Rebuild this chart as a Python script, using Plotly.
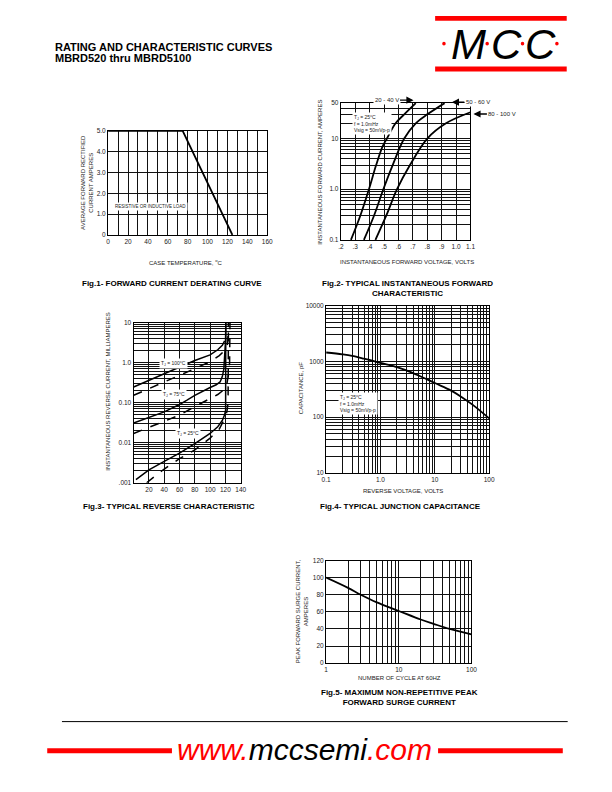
import plotly.graph_objects as go

W, H = 612, 792
def PX(x): return x / W
def PY(y): return 1 - y / H

# ---------------- data ----------------
# Fig.1 derating
fig1_temp = [0, 75, 125]
fig1_amps = [5.0, 5.0, 0.0]

# Fig.2 forward characteristic
fig2_v_20_40 = [0.27, 0.335, 0.395, 0.445, 0.49, 0.52, 0.58, 0.64, 0.72]
fig2_i_20_40 = [0.1, 0.3, 1, 3, 7, 10, 20, 30, 50]
fig2_v_50_60 = [0.36, 0.43, 0.495, 0.56, 0.64, 0.72, 0.80, 0.92]
fig2_i_50_60 = [0.1, 0.3, 1, 3, 10, 20, 30, 50]
fig2_v_80_100 = [0.44, 0.515, 0.59, 0.68, 0.80, 0.93, 1.1]
fig2_i_80_100 = [0.1, 0.3, 1, 3, 10, 20, 33]

# Fig.3 reverse characteristic (mA)
fig3_x_100s = [0, 20, 40, 60, 80, 100, 110, 116, 119]
fig3_y_100s = [0.246, 0.36, 0.53, 0.78, 1.13, 1.56, 2.1, 2.7, 3.5]
fig3_x_100d = [0, 20, 40, 60, 80, 100, 112, 119, 123, 124]
fig3_y_100d = [0.153, 0.22, 0.33, 0.48, 0.72, 1.06, 1.5, 2.0, 3.0, 10]
fig3_x_75s = [0, 20, 40, 60, 80, 100, 108, 113, 116, 118, 119.5, 120.2, 120.5]
fig3_y_75s = [0.031, 0.043, 0.059, 0.09, 0.153, 0.24, 0.28, 0.33, 0.45, 0.7, 1.5, 3.5, 10]
fig3_x_75d = [0, 20, 40, 60, 80, 100, 110, 118, 122, 124, 125.5, 126]
fig3_y_75d = [0.017, 0.024, 0.034, 0.049, 0.08, 0.127, 0.16, 0.21, 0.3, 0.5, 1.0, 10]
fig3_x_25s = [3, 20, 40, 60, 80, 100, 110, 116, 119, 120.3, 120.5]
fig3_y_25s = [0.0012, 0.0021, 0.0034, 0.0055, 0.0095, 0.017, 0.025, 0.036, 0.05, 0.065, 10]
fig3_x_25d = [17, 40, 60, 80, 100, 112, 119, 122, 123.5, 124]
fig3_y_25d = [0.001, 0.0022, 0.004, 0.0066, 0.013, 0.022, 0.04, 0.06, 0.1, 10]

# Fig.4 junction capacitance
fig4_v = [0.1, 0.2, 0.3, 0.5, 1, 2, 3, 5, 10, 20, 30, 50, 100]
fig4_c = [1450, 1340, 1260, 1120, 940, 790, 690, 560, 410, 300, 236, 166, 95]

# Fig.5 surge current
fig5_n = [1, 2, 3, 5, 10, 20, 30, 50, 100]
fig5_i = [100, 88, 80, 71, 61, 51, 46, 40, 33.5]

# tick labels
fig1_xticks = [0, 20, 40, 60, 80, 100, 120, 140, 160]
fig1_xlabels = ["0", "20", "40", "60", "80", "100", "120", "140", "160"]
fig1_yticks = [0, 1, 2, 3, 4, 5]
fig1_ylabels = ["0", "1.0", "2.0", "3.0", "4.0", "5.0"]
fig2_xticks = [0.2, 0.3, 0.4, 0.5, 0.6, 0.7, 0.8, 0.9, 1.0, 1.1]
fig2_xlabels = [".2", ".3", ".4", ".5", ".6", ".7", ".8", ".9", "1.0", "1.1"]
fig2_yticks = [0.1, 1, 10, 50]
fig2_ylabels = ["0.1", "1.0", "10", "50"]
fig3_xticks = [20, 40, 60, 80, 100, 120, 140]
fig3_xlabels = ["20", "40", "60", "80", "100", "120", "140"]
fig3_yticks = [0.001, 0.01, 0.1, 1, 10]
fig3_ylabels = [".001", "0.01", "0.10", "1.0", "10"]
fig4_xticks = [0.1, 1, 10, 100]
fig4_xlabels = ["0.1", "1.0", "10", "100"]
fig4_yticks = [10, 100, 1000, 10000]
fig4_ylabels = ["10", "100", "1000", "10000"]
fig5_xticks = [1, 10, 100]
fig5_xlabels = ["1", "10", "100"]
fig5_yticks = [0, 20, 40, 60, 80, 100, 120]
fig5_ylabels = ["0", "20", "40", "60", "80", "100", "120"]

# ---------------- figure ----------------
def loggrid(lo_exp, hi_exp, top=None):
    vals = []
    for e in range(lo_exp, hi_exp + 1):
        for m in range(1, 10):
            v = m * 10 ** e
            if top is not None and v > top * 1.0001:
                continue
            if e == hi_exp and m > 1 and top is None:
                continue
            vals.append(v)
    return vals

fig = go.Figure()
LW = 1.8
blk = "black"

fig.add_trace(go.Scatter(x=fig1_temp, y=fig1_amps, mode="lines", line=dict(color=blk, width=LW), xaxis="x", yaxis="y"))

for xv, yv in [(fig2_v_20_40, fig2_i_20_40), (fig2_v_50_60, fig2_i_50_60), (fig2_v_80_100, fig2_i_80_100)]:
    fig.add_trace(go.Scatter(x=xv, y=yv, mode="lines", line=dict(color=blk, width=LW, shape="spline"), xaxis="x2", yaxis="y2"))

for xv, yv, d in [(fig3_x_100s, fig3_y_100s, "solid"), (fig3_x_100d, fig3_y_100d, "dash"),
                  (fig3_x_75s, fig3_y_75s, "solid"), (fig3_x_75d, fig3_y_75d, "dash"),
                  (fig3_x_25s, fig3_y_25s, "solid"), (fig3_x_25d, fig3_y_25d, "dash")]:
    fig.add_trace(go.Scatter(x=xv, y=yv, mode="lines", line=dict(color=blk, width=1.5, dash=d), xaxis="x3", yaxis="y3"))

fig.add_trace(go.Scatter(x=fig4_v, y=fig4_c, mode="lines", line=dict(color=blk, width=LW, shape="spline"), xaxis="x4", yaxis="y4"))
fig.add_trace(go.Scatter(x=fig5_n, y=fig5_i, mode="lines", line=dict(color=blk, width=LW, shape="spline"), xaxis="x5", yaxis="y5"))

tickfont = dict(family="Liberation Sans, Arial", size=6.5, color="#222")
GC = "#111"
GW = 0.9
base = dict(showline=True, mirror=True, linecolor="black", linewidth=1.2, showgrid=True,
            gridcolor=GC, gridwidth=GW, zeroline=False, ticks="", tickfont=tickfont,
            fixedrange=True, tickmode="array", ticklen=0)

def minor(vals):
    return dict(tickmode="array", tickvals=vals, showgrid=True, gridcolor=GC, gridwidth=GW, ticks="")

layout = dict(
    width=W, height=H, margin=dict(l=0, r=0, t=0, b=0), showlegend=False,
    paper_bgcolor="white", plot_bgcolor="white",
    xaxis=dict(base, domain=[PX(105), PX(267)], anchor="y", range=[0, 160],
               tickvals=fig1_xticks, ticktext=fig1_xlabels, minor=minor(list(range(10, 160, 20)))),
    yaxis=dict(base, domain=[PY(233), PY(128)], anchor="x", range=[0, 5],
               tickvals=fig1_yticks, ticktext=fig1_ylabels),
    xaxis2=dict(base, domain=[PX(342), PX(474)], anchor="y2", range=[0.2, 1.1],
                tickvals=fig2_xticks, ticktext=fig2_xlabels),
    yaxis2=dict(base, domain=[PY(238), PY(100)], anchor="x2", type="log", range=[-1, 1.69897],
                tickvals=fig2_yticks, ticktext=fig2_ylabels, minor=minor(loggrid(-1, 1, top=50))),
    xaxis3=dict(base, domain=[PX(131), PX(240)], anchor="y3", range=[0, 140],
                tickvals=fig3_xticks, ticktext=fig3_xlabels),
    yaxis3=dict(base, domain=[PY(483), PY(321.5)], anchor="x3", type="log", range=[-3, 1],
                tickvals=fig3_yticks, ticktext=fig3_ylabels, minor=minor(loggrid(-3, 1))),
    xaxis4=dict(base, domain=[PX(327), PX(493)], anchor="y4", type="log", range=[-1, 2],
                tickvals=fig4_xticks, ticktext=fig4_xlabels, minor=minor(loggrid(-1, 2))),
    yaxis4=dict(base, domain=[PY(473), PY(304.5)], anchor="x4", type="log", range=[1, 4],
                tickvals=fig4_yticks, ticktext=fig4_ylabels, minor=minor(loggrid(1, 4))),
    xaxis5=dict(base, domain=[PX(327), PX(475)], anchor="y5", type="log", range=[0, 2],
                tickvals=fig5_xticks, ticktext=fig5_xlabels, minor=minor(loggrid(0, 2))),
    yaxis5=dict(base, domain=[PY(665), PY(561.5)], anchor="x5", range=[0, 120],
                tickvals=fig5_yticks, ticktext=fig5_ylabels),
)
fig.update_layout(**layout)

ann = []
def txt(x, y, s, size=6.5, bold=False, angle=0, color="#222", bg=None, align="center", italic=False, xanchor="center", family="Liberation Sans, Arial"):
    if bold:
        s = "<b>" + s + "</b>"
    if italic:
        s = "<i>" + s + "</i>"
    d = dict(x=PX(x), y=PY(y), xref="paper", yref="paper", text=s, showarrow=False,
             font=dict(family=family, size=size, color=color), textangle=angle,
             xanchor=xanchor, yanchor="middle", align=align, borderpad=1)
    if bg:
        d["bgcolor"] = bg
    ann.append(d)

def label_arrow(s, xh, yh, dx, bg=None):
    d = dict(x=PX(xh), y=PY(yh), xref="paper", yref="paper", text=s, showarrow=True,
             ax=dx, ay=0, arrowhead=2, arrowsize=1.1, arrowwidth=1.3, arrowcolor="black",
             standoff=0, startstandoff=0, borderpad=1,
             font=dict(family="Liberation Sans, Arial", size=6, color="#222"))
    if bg:
        d["bgcolor"] = bg
    ann.append(d)

# header
txt(49, 43, "RATING AND CHARACTERISTIC CURVES", size=11, bold=True, color="black", xanchor="left")
txt(49, 54, "MBRD520 thru MBRD5100", size=11, bold=True, color="black", xanchor="left")

# axis titles
txt(84, 180, "AVERAGE FORWARD RECTIFIED<br>CURRENT AMPERES", size=6, angle=-90)
txt(184, 260, "CASE TEMPERATURE, <sup>o</sup>C", size=6)
txt(321, 170, "INSTANTANEOUS FORWARD CURRENT, AMPERES", size=6, angle=-90)
txt(409, 260, "INSTANTANEOUS FORWARD VOLTAGE, VOLTS", size=6)
txt(104, 391, "INSTANTANEOUS REVERSE CURRENT, MILLIAMPERES", size=6, angle=-90)
txt(301, 388, "CAPACITANCE, pF", size=6, angle=-90)
txt(405, 491, "REVERSE VOLTAGE, VOLTS", size=6)
txt(302, 613, "PEAK FORWARD SURGE CURRENT,<br>AMPERES", size=6, angle=-90)
txt(402, 680, "NUMBER OF CYCLE AT 60HZ", size=6)

# captions
cap = 8
txt(170, 282, "Fig.1- FORWARD CURRENT DERATING CURVE", size=cap, bold=True, color="black")
txt(410, 287, "Fig.2- TYPICAL INSTANTANEOUS FORWARD<br>CHARACTERISTIC", size=cap, bold=True, color="black")
txt(167, 507, "Fig.3- TYPICAL REVERSE CHARACTERISTIC", size=cap, bold=True, color="black")
txt(403, 507, "Fig.4- TYPICAL JUNCTION CAPACITANCE", size=cap, bold=True, color="black")
txt(402, 700, "Fig.5- MAXIMUM NON-REPETITIVE PEAK<br>FORWARD SURGE CURRENT", size=cap, bold=True, color="black")

# in-plot labels
txt(148, 204, "RESISTIVE OR INDUCTIVE LOAD", size=4.5, bg="white")
txt(353, 121, "T<sub>J</sub> = 25°C<br>f = 1.0mHz<br>Vsig = 50mVp-p", size=5, bg="white", align="left", xanchor="left")
txt(339, 403, "T<sub>J</sub> = 25°C<br>f = 1.0mHz<br>Vsig = 50mVp-p", size=5, bg="white", align="left", xanchor="left")
txt(172, 363, "T<sub>J</sub> = 100°C", size=5, bg="white")
txt(172, 394, "T<sub>J</sub> = 75°C", size=5, bg="white")
txt(186, 433, "T<sub>J</sub> = 25°C", size=5, bg="white")

label_arrow("20 - 40 V", 416, 97, -27, bg="white")
label_arrow("50 - 60 V", 455, 99, 26, bg="white")
label_arrow("80 - 100 V", 477, 111, 29)

# logo letters
for cx, ch in [(472, "M"), (511, "C"), (545, "C")]:
    ann.append(dict(x=PX(cx), y=PY(41), xref="paper", yref="paper", showarrow=False,
                    text="<i>" + ch + "</i>", font=dict(family="Liberation Sans, Arial", size=42, color="black"),
                    xanchor="center", yanchor="middle"))

# footer text
ann.append(dict(x=PX(305), y=PY(752), xref="paper", yref="paper", showarrow=False,
                text="<i><span style='color:red'>www.</span>mccsemi<span style='color:red'>.com</span></i>",
                font=dict(family="Liberation Sans, Arial", size=30, color="black"),
                xanchor="center", yanchor="middle"))

fig.update_layout(annotations=ann)

shapes = []
def rect(x0, y0, x1, y1, color="red"):
    shapes.append(dict(type="rect", xref="paper", yref="paper", x0=PX(x0), x1=PX(x1), y0=PY(y1), y1=PY(y0),
                       fillcolor=color, line=dict(width=0)))
rect(438, 12, 572, 17)
rect(438, 63, 572, 68)
rect(43, 751, 170, 756)
rect(441, 751, 568, 756)
shapes.append(dict(type="line", xref="paper", yref="paper", x0=PX(58), x1=PX(573), y0=PY(724), y1=PY(724),
                   line=dict(color="black", width=1)))
for cx in [447, 491, 527, 562]:
    shapes.append(dict(type="circle", xref="paper", yref="paper", x0=PX(cx - 1.8), x1=PX(cx + 1.8),
                       y0=PY(41.8), y1=PY(38.2), fillcolor="red", line=dict(width=0)))
fig.update_layout(shapes=shapes)

post = ("document.body.style.margin='0';document.body.style.overflow='hidden';"
        "document.querySelectorAll('text').forEach(function(t){if(!t.textContent.trim()){t.remove();}});")
fig.write_html("out.html", config={"displayModeBar": False}, post_script=post)
